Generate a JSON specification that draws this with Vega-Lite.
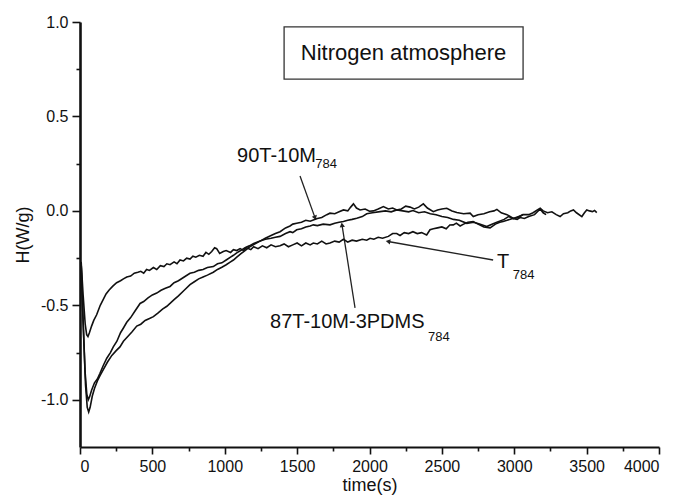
{
  "$schema": "https://vega.github.io/schema/vega-lite/v6.json",
  "autosize": {"type": "none"},
  "padding": {"left": 80, "top": 22, "right": 22, "bottom": 52},
  "width": 579,
  "height": 425,
  "background": "white",
  "config": {
    "view": {"stroke": null},
    "font": "Liberation Sans",
    "axis": {"grid": false, "domainColor": "#111", "tickColor": "#111", "labelColor": "#111", "titleColor": "#111", "labelFont": "Liberation Sans", "titleFont": "Liberation Sans", "titleFontWeight": "normal"}
  },
  "datasets": {
    "curves": [
      {"series":"T784","t":8,"h":-0.27},{"series":"T784","t":22,"h":-0.45},{"series":"T784","t":36,"h":-0.6},{"series":"T784","t":46,"h":-0.655},{"series":"T784","t":55,"h":-0.665},{"series":"T784","t":65,"h":-0.645},{"series":"T784","t":80,"h":-0.61},{"series":"T784","t":95,"h":-0.58},{"series":"T784","t":115,"h":-0.55},{"series":"T784","t":140,"h":-0.5},{"series":"T784","t":160,"h":-0.47},{"series":"T784","t":180,"h":-0.44},{"series":"T784","t":200,"h":-0.42},{"series":"T784","t":225,"h":-0.4},{"series":"T784","t":253,"h":-0.38},{"series":"T784","t":280,"h":-0.37},{"series":"T784","t":300,"h":-0.36},{"series":"T784","t":323,"h":-0.35},{"series":"T784","t":350,"h":-0.345},{"series":"T784","t":375,"h":-0.33},{"series":"T784","t":400,"h":-0.325},{"series":"T784","t":420,"h":-0.32},{"series":"T784","t":440,"h":-0.33},{"series":"T784","t":460,"h":-0.31},{"series":"T784","t":480,"h":-0.315},{"series":"T784","t":507,"h":-0.3},{"series":"T784","t":530,"h":-0.31},{"series":"T784","t":555,"h":-0.29},{"series":"T784","t":580,"h":-0.295},{"series":"T784","t":600,"h":-0.28},{"series":"T784","t":622,"h":-0.285},{"series":"T784","t":650,"h":-0.27},{"series":"T784","t":670,"h":-0.28},{"series":"T784","t":691,"h":-0.26},{"series":"T784","t":715,"h":-0.265},{"series":"T784","t":737,"h":-0.25},{"series":"T784","t":760,"h":-0.255},{"series":"T784","t":780,"h":-0.24},{"series":"T784","t":800,"h":-0.245},{"series":"T784","t":825,"h":-0.235},{"series":"T784","t":850,"h":-0.24},{"series":"T784","t":870,"h":-0.22},{"series":"T784","t":890,"h":-0.23},{"series":"T784","t":910,"h":-0.215},{"series":"T784","t":930,"h":-0.195},{"series":"T784","t":944,"h":-0.2},{"series":"T784","t":965,"h":-0.225},{"series":"T784","t":990,"h":-0.215},{"series":"T784","t":1010,"h":-0.21},{"series":"T784","t":1040,"h":-0.22},{"series":"T784","t":1060,"h":-0.205},{"series":"T784","t":1083,"h":-0.21},{"series":"T784","t":1106,"h":-0.2},{"series":"T784","t":1130,"h":-0.21},{"series":"T784","t":1150,"h":-0.195},{"series":"T784","t":1180,"h":-0.205},{"series":"T784","t":1200,"h":-0.19},{"series":"T784","t":1230,"h":-0.2},{"series":"T784","t":1260,"h":-0.185},{"series":"T784","t":1290,"h":-0.195},{"series":"T784","t":1320,"h":-0.18},{"series":"T784","t":1350,"h":-0.19},{"series":"T784","t":1382,"h":-0.185},{"series":"T784","t":1410,"h":-0.175},{"series":"T784","t":1440,"h":-0.19},{"series":"T784","t":1470,"h":-0.18},{"series":"T784","t":1500,"h":-0.17},{"series":"T784","t":1530,"h":-0.185},{"series":"T784","t":1560,"h":-0.17},{"series":"T784","t":1590,"h":-0.18},{"series":"T784","t":1612,"h":-0.17},{"series":"T784","t":1640,"h":-0.175},{"series":"T784","t":1670,"h":-0.16},{"series":"T784","t":1700,"h":-0.175},{"series":"T784","t":1727,"h":-0.17},{"series":"T784","t":1760,"h":-0.16},{"series":"T784","t":1790,"h":-0.165},{"series":"T784","t":1820,"h":-0.15},{"series":"T784","t":1850,"h":-0.165},{"series":"T784","t":1880,"h":-0.155},{"series":"T784","t":1910,"h":-0.16},{"series":"T784","t":1950,"h":-0.15},{"series":"T784","t":1981,"h":-0.155},{"series":"T784","t":2004,"h":-0.145},{"series":"T784","t":2030,"h":-0.15},{"series":"T784","t":2060,"h":-0.14},{"series":"T784","t":2090,"h":-0.145},{"series":"T784","t":2130,"h":-0.135},{"series":"T784","t":2160,"h":-0.12},{"series":"T784","t":2188,"h":-0.12},{"series":"T784","t":2211,"h":-0.13},{"series":"T784","t":2240,"h":-0.115},{"series":"T784","t":2270,"h":-0.12},{"series":"T784","t":2300,"h":-0.11},{"series":"T784","t":2330,"h":-0.12},{"series":"T784","t":2360,"h":-0.115},{"series":"T784","t":2395,"h":-0.127},{"series":"T784","t":2418,"h":-0.1},{"series":"T784","t":2441,"h":-0.095},{"series":"T784","t":2470,"h":-0.09},{"series":"T784","t":2500,"h":-0.085},{"series":"T784","t":2530,"h":-0.095},{"series":"T784","t":2555,"h":-0.075},{"series":"T784","t":2579,"h":-0.074},{"series":"T784","t":2600,"h":-0.065},{"series":"T784","t":2626,"h":-0.08},{"series":"T784","t":2650,"h":-0.07},{"series":"T784","t":2680,"h":-0.06},{"series":"T784","t":2716,"h":-0.056},{"series":"T784","t":2750,"h":-0.07},{"series":"T784","t":2790,"h":-0.085},{"series":"T784","t":2833,"h":-0.09},{"series":"T784","t":2870,"h":-0.07},{"series":"T784","t":2900,"h":-0.06},{"series":"T784","t":2923,"h":-0.056},{"series":"T784","t":2950,"h":-0.05},{"series":"T784","t":2990,"h":-0.04},{"series":"T784","t":3020,"h":-0.045},{"series":"T784","t":3040,"h":-0.035},{"series":"T784","t":3070,"h":-0.04},{"series":"T784","t":3100,"h":-0.03},{"series":"T784","t":3140,"h":-0.02},{"series":"T784","t":3179,"h":0.01},{"series":"T784","t":3200,"h":-0.01},{"series":"T784","t":3220,"h":-0.02},

      {"series":"87T","t":8,"h":-0.28},{"series":"87T","t":20,"h":-0.55},{"series":"87T","t":35,"h":-0.85},{"series":"87T","t":47,"h":-0.97},{"series":"87T","t":57,"h":-1.0},{"series":"87T","t":66,"h":-0.985},{"series":"87T","t":80,"h":-0.95},{"series":"87T","t":100,"h":-0.91},{"series":"87T","t":120,"h":-0.89},{"series":"87T","t":138,"h":-0.86},{"series":"87T","t":160,"h":-0.82},{"series":"87T","t":185,"h":-0.78},{"series":"87T","t":210,"h":-0.75},{"series":"87T","t":230,"h":-0.72},{"series":"87T","t":255,"h":-0.69},{"series":"87T","t":280,"h":-0.645},{"series":"87T","t":300,"h":-0.62},{"series":"87T","t":323,"h":-0.59},{"series":"87T","t":350,"h":-0.565},{"series":"87T","t":380,"h":-0.53},{"series":"87T","t":415,"h":-0.49},{"series":"87T","t":440,"h":-0.48},{"series":"87T","t":470,"h":-0.46},{"series":"87T","t":500,"h":-0.445},{"series":"87T","t":530,"h":-0.435},{"series":"87T","t":560,"h":-0.42},{"series":"87T","t":590,"h":-0.41},{"series":"87T","t":622,"h":-0.4},{"series":"87T","t":650,"h":-0.38},{"series":"87T","t":680,"h":-0.37},{"series":"87T","t":720,"h":-0.35},{"series":"87T","t":760,"h":-0.33},{"series":"87T","t":790,"h":-0.325},{"series":"87T","t":820,"h":-0.315},{"series":"87T","t":850,"h":-0.31},{"series":"87T","t":880,"h":-0.3},{"series":"87T","t":921,"h":-0.295},{"series":"87T","t":950,"h":-0.28},{"series":"87T","t":980,"h":-0.275},{"series":"87T","t":1010,"h":-0.26},{"series":"87T","t":1040,"h":-0.245},{"series":"87T","t":1060,"h":-0.235},{"series":"87T","t":1083,"h":-0.222},{"series":"87T","t":1110,"h":-0.21},{"series":"87T","t":1140,"h":-0.195},{"series":"87T","t":1170,"h":-0.185},{"series":"87T","t":1200,"h":-0.172},{"series":"87T","t":1244,"h":-0.16},{"series":"87T","t":1280,"h":-0.15},{"series":"87T","t":1320,"h":-0.145},{"series":"87T","t":1350,"h":-0.14},{"series":"87T","t":1382,"h":-0.135},{"series":"87T","t":1420,"h":-0.12},{"series":"87T","t":1451,"h":-0.11},{"series":"87T","t":1470,"h":-0.115},{"series":"87T","t":1497,"h":-0.1},{"series":"87T","t":1530,"h":-0.095},{"series":"87T","t":1560,"h":-0.085},{"series":"87T","t":1590,"h":-0.08},{"series":"87T","t":1612,"h":-0.074},{"series":"87T","t":1640,"h":-0.078},{"series":"87T","t":1680,"h":-0.07},{"series":"87T","t":1727,"h":-0.074},{"series":"87T","t":1760,"h":-0.065},{"series":"87T","t":1790,"h":-0.06},{"series":"87T","t":1820,"h":-0.056},{"series":"87T","t":1850,"h":-0.05},{"series":"87T","t":1880,"h":-0.045},{"series":"87T","t":1912,"h":-0.039},{"series":"87T","t":1950,"h":-0.03},{"series":"87T","t":1981,"h":-0.015},{"series":"87T","t":2020,"h":-0.01},{"series":"87T","t":2073,"h":-0.004},{"series":"87T","t":2110,"h":0.0},{"series":"87T","t":2150,"h":-0.005},{"series":"87T","t":2188,"h":0.005},{"series":"87T","t":2230,"h":0.0},{"series":"87T","t":2270,"h":-0.005},{"series":"87T","t":2300,"h":0.002},{"series":"87T","t":2340,"h":-0.01},{"series":"87T","t":2380,"h":-0.005},{"series":"87T","t":2420,"h":-0.015},{"series":"87T","t":2460,"h":-0.02},{"series":"87T","t":2500,"h":-0.03},{"series":"87T","t":2540,"h":-0.035},{"series":"87T","t":2580,"h":-0.045},{"series":"87T","t":2620,"h":-0.05},{"series":"87T","t":2672,"h":-0.066},{"series":"87T","t":2720,"h":-0.06},{"series":"87T","t":2760,"h":-0.07},{"series":"87T","t":2810,"h":-0.083},{"series":"87T","t":2850,"h":-0.07},{"series":"87T","t":2880,"h":-0.06},{"series":"87T","t":2930,"h":-0.045},{"series":"87T","t":2960,"h":-0.03},{"series":"87T","t":2994,"h":-0.04},{"series":"87T","t":3030,"h":-0.03},{"series":"87T","t":3060,"h":-0.02},

      {"series":"90T","t":8,"h":-0.28},{"series":"90T","t":22,"h":-0.6},{"series":"90T","t":38,"h":-0.92},{"series":"90T","t":50,"h":-1.04},{"series":"90T","t":60,"h":-1.065},{"series":"90T","t":70,"h":-1.04},{"series":"90T","t":85,"h":-0.98},{"series":"90T","t":100,"h":-0.94},{"series":"90T","t":120,"h":-0.9},{"series":"90T","t":140,"h":-0.87},{"series":"90T","t":161,"h":-0.84},{"series":"90T","t":190,"h":-0.8},{"series":"90T","t":220,"h":-0.765},{"series":"90T","t":250,"h":-0.74},{"series":"90T","t":276,"h":-0.72},{"series":"90T","t":300,"h":-0.69},{"series":"90T","t":330,"h":-0.665},{"series":"90T","t":360,"h":-0.64},{"series":"90T","t":392,"h":-0.61},{"series":"90T","t":420,"h":-0.6},{"series":"90T","t":450,"h":-0.58},{"series":"90T","t":480,"h":-0.57},{"series":"90T","t":507,"h":-0.56},{"series":"90T","t":540,"h":-0.54},{"series":"90T","t":570,"h":-0.52},{"series":"90T","t":600,"h":-0.505},{"series":"90T","t":622,"h":-0.49},{"series":"90T","t":650,"h":-0.47},{"series":"90T","t":680,"h":-0.45},{"series":"90T","t":720,"h":-0.42},{"series":"90T","t":760,"h":-0.39},{"series":"90T","t":790,"h":-0.375},{"series":"90T","t":820,"h":-0.36},{"series":"90T","t":850,"h":-0.35},{"series":"90T","t":880,"h":-0.34},{"series":"90T","t":921,"h":-0.325},{"series":"90T","t":950,"h":-0.31},{"series":"90T","t":980,"h":-0.298},{"series":"90T","t":1010,"h":-0.285},{"series":"90T","t":1040,"h":-0.27},{"series":"90T","t":1060,"h":-0.26},{"series":"90T","t":1083,"h":-0.245},{"series":"90T","t":1110,"h":-0.228},{"series":"90T","t":1140,"h":-0.21},{"series":"90T","t":1170,"h":-0.192},{"series":"90T","t":1200,"h":-0.178},{"series":"90T","t":1244,"h":-0.16},{"series":"90T","t":1280,"h":-0.145},{"series":"90T","t":1320,"h":-0.13},{"series":"90T","t":1350,"h":-0.12},{"series":"90T","t":1382,"h":-0.11},{"series":"90T","t":1420,"h":-0.09},{"series":"90T","t":1451,"h":-0.08},{"series":"90T","t":1470,"h":-0.07},{"series":"90T","t":1497,"h":-0.065},{"series":"90T","t":1530,"h":-0.06},{"series":"90T","t":1560,"h":-0.05},{"series":"90T","t":1590,"h":-0.055},{"series":"90T","t":1612,"h":-0.048},{"series":"90T","t":1640,"h":-0.04},{"series":"90T","t":1670,"h":-0.035},{"series":"90T","t":1705,"h":-0.02},{"series":"90T","t":1727,"h":-0.012},{"series":"90T","t":1760,"h":-0.015},{"series":"90T","t":1790,"h":-0.005},{"series":"90T","t":1820,"h":0.005},{"series":"90T","t":1850,"h":0.0},{"series":"90T","t":1870,"h":0.02},{"series":"90T","t":1889,"h":0.037},{"series":"90T","t":1910,"h":0.015},{"series":"90T","t":1935,"h":0.005},{"series":"90T","t":1970,"h":0.01},{"series":"90T","t":2000,"h":-0.002},{"series":"90T","t":2027,"h":0.0},{"series":"90T","t":2060,"h":0.01},{"series":"90T","t":2096,"h":0.023},{"series":"90T","t":2130,"h":0.01},{"series":"90T","t":2160,"h":0.015},{"series":"90T","t":2188,"h":0.005},{"series":"90T","t":2220,"h":0.01},{"series":"90T","t":2250,"h":0.025},{"series":"90T","t":2280,"h":0.02},{"series":"90T","t":2310,"h":0.01},{"series":"90T","t":2340,"h":0.02},{"series":"90T","t":2372,"h":0.037},{"series":"90T","t":2400,"h":0.015},{"series":"90T","t":2441,"h":-0.004},{"series":"90T","t":2470,"h":0.005},{"series":"90T","t":2500,"h":0.01},{"series":"90T","t":2534,"h":0.014},{"series":"90T","t":2570,"h":0.0},{"series":"90T","t":2603,"h":-0.009},{"series":"90T","t":2650,"h":-0.015},{"series":"90T","t":2695,"h":-0.012},{"series":"90T","t":2717,"h":-0.03},{"series":"90T","t":2750,"h":-0.02},{"series":"90T","t":2790,"h":-0.015},{"series":"90T","t":2830,"h":-0.005},{"series":"90T","t":2860,"h":0.0},{"series":"90T","t":2880,"h":0.008},{"series":"90T","t":2910,"h":-0.01},{"series":"90T","t":2950,"h":-0.02},{"series":"90T","t":2994,"h":-0.04},{"series":"90T","t":3030,"h":-0.035},{"series":"90T","t":3060,"h":-0.02},{"series":"90T","t":3100,"h":-0.02},{"series":"90T","t":3130,"h":-0.01},{"series":"90T","t":3160,"h":0.005},{"series":"90T","t":3179,"h":0.014},{"series":"90T","t":3200,"h":0.0},{"series":"90T","t":3230,"h":-0.01},{"series":"90T","t":3260,"h":-0.005},{"series":"90T","t":3290,"h":-0.02},{"series":"90T","t":3317,"h":-0.03},{"series":"90T","t":3340,"h":-0.015},{"series":"90T","t":3370,"h":-0.01},{"series":"90T","t":3390,"h":0.0},{"series":"90T","t":3409,"h":0.005},{"series":"90T","t":3430,"h":-0.01},{"series":"90T","t":3467,"h":-0.03},{"series":"90T","t":3485,"h":-0.01},{"series":"90T","t":3501,"h":0.005},{"series":"90T","t":3520,"h":0.0},{"series":"90T","t":3540,"h":-0.004},{"series":"90T","t":3555,"h":0.002},{"series":"90T","t":3570,"h":-0.009}
    ],
    "labels": [
      {"text": "90T-10M", "t": 1085, "h": 0.29, "kind": "main"},
      {"text": "784", "t": 1625, "h": 0.25, "kind": "sub"},
      {"text": "87T-10M-3PDMS", "t": 1313, "h": -0.587, "kind": "main"},
      {"text": "784", "t": 2405, "h": -0.667, "kind": "sub"},
      {"text": "T", "t": 2881, "h": -0.27, "kind": "main"},
      {"text": "784", "t": 2990, "h": -0.339, "kind": "sub"}
    ],
    "arrows": [
      {"t": 1520, "h": 0.185, "t2": 1624, "h2": -0.037},
      {"t": 1900, "h": -0.513, "t2": 1810, "h2": -0.074},
      {"t": 2854, "h": -0.26, "t2": 2128, "h2": -0.162}
    ],
    "heads": [
      {"t": 1624, "h": -0.037, "angle": 160},
      {"t": 1810, "h": -0.074, "angle": 351},
      {"t": 2128, "h": -0.162, "angle": 280}
    ],
    "box": [
      {"t": 1410, "t2": 3061, "h": 0.974, "h2": 0.698}
    ],
    "boxtext": [
      {"t": 2235, "h": 0.836, "text": "Nitrogen atmosphere"}
    ]
  },
  "encoding": {
    "x": {"field": "t", "type": "quantitative", "scale": {"domain": [0, 4000], "nice": false, "zero": false},
      "axis": {"title": "time(s)", "values": [0,250,500,750,1000,1250,1500,1750,2000,2250,2500,2750,3000,3250,3500,3750,4000],
        "labelExpr": "datum.value % 500 === 0 ? format(datum.value, 'd') : ''",
        "tickSize": 7,
        "tickDash": {"condition": {"test": "datum.value % 500 !== 0", "value": [4, 10]}, "value": [10, 0]},
        "tickWidth": 1.6, "domainWidth": 2, "labelFontSize": 16, "labelPadding": 4, "titleFontSize": 18, "titlePadding": 2}},
    "y": {"field": "h", "type": "quantitative", "scale": {"domain": [-1.25, 1.0], "nice": false, "zero": false},
      "axis": {"title": "H(W/g)", "values": [-1,-0.75,-0.5,-0.25,0,0.25,0.5,0.75,1],
        "labelExpr": "datum.value % 0.5 === 0 ? ((datum.value < 0 ? '-' : '') + format(abs(datum.value), '.1f')) : ''",
        "tickSize": 8,
        "tickDash": {"condition": {"test": "datum.value % 0.5 !== 0", "value": [4, 10]}, "value": [10, 0]},
        "tickWidth": 1.6, "domainWidth": 2.6, "labelFontSize": 16, "labelPadding": 4, "titleFontSize": 18, "titlePadding": 8}}
  },
  "layer": [
    {
      "data": {"name": "box"},
      "mark": {"type": "rect", "fill": "white", "stroke": "#333", "strokeWidth": 1.3},
      "encoding": {"x2": {"field": "t2"}, "y2": {"field": "h2"}}
    },
    {
      "data": {"name": "boxtext"},
      "mark": {"type": "text", "fontSize": 22, "font": "Liberation Sans", "color": "#111", "align": "center", "baseline": "middle"},
      "encoding": {"text": {"field": "text"}}
    },
    {
      "data": {"name": "labels"},
      "transform": [{"filter": "datum.kind === 'main'"}],
      "mark": {"type": "text", "fontSize": 20, "font": "Liberation Sans", "color": "#111", "align": "left", "baseline": "middle"},
      "encoding": {"text": {"field": "text"}}
    },
    {
      "data": {"name": "labels"},
      "transform": [{"filter": "datum.kind === 'sub'"}],
      "mark": {"type": "text", "fontSize": 13, "font": "Liberation Sans", "color": "#111", "align": "left", "baseline": "middle"},
      "encoding": {"text": {"field": "text"}}
    },
    {
      "data": {"name": "arrows"},
      "mark": {"type": "rule", "color": "#222", "strokeWidth": 1.3},
      "encoding": {"x2": {"field": "t2"}, "y2": {"field": "h2"}}
    },
    {
      "data": {"name": "heads"},
      "mark": {"type": "point", "shape": "triangle-up", "filled": true, "color": "#222", "size": 28, "opacity": 1},
      "encoding": {"angle": {"field": "angle", "type": "quantitative", "scale": null}}
    },
    {
      "data": {"name": "curves"},
      "mark": {"type": "line", "color": "#111", "strokeWidth": 1.6, "clip": true},
      "encoding": {"detail": {"field": "series"}}
    }
  ]
}
